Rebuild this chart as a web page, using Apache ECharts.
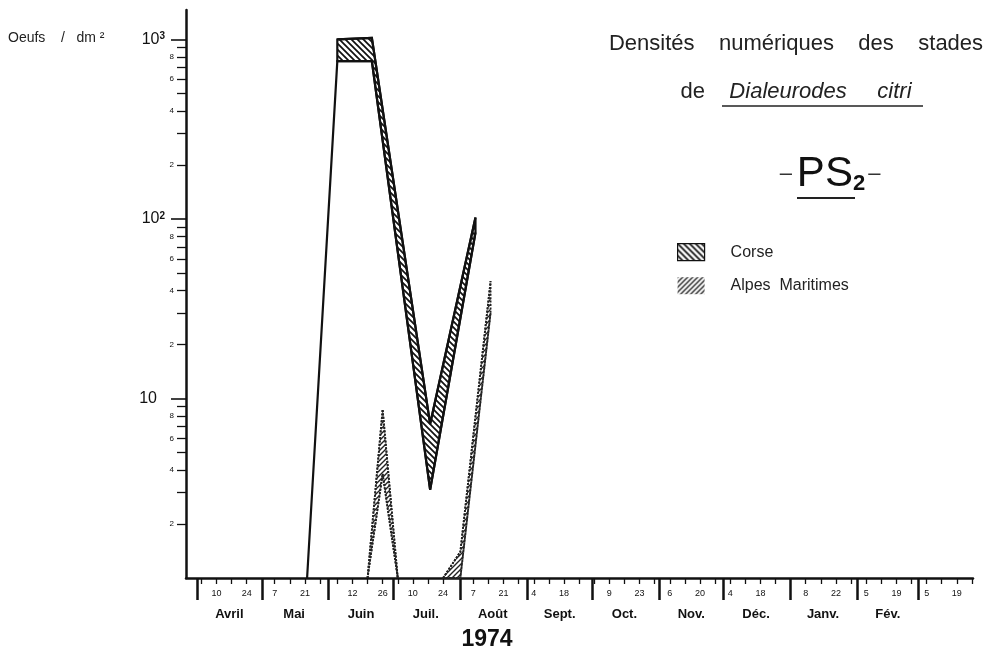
<!DOCTYPE html>
<html><head><meta charset="utf-8">
<script src="https://cdn.jsdelivr.net/npm/echarts@6/dist/echarts.min.js"></script>
<style>html,body{margin:0;padding:0;background:#fff}#c{width:993px;height:653px}</style>
</head><body><div id="c"></div>
<script>
// ---------- data ----------
const corseUpperDates = ['1974-06-05','1974-06-21','1974-07-18','1974-08-08'];
const corseUpper = [1000, 1020, 7.2, 102];
const corseLowerDates = ['1974-05-22','1974-06-05','1974-06-21','1974-07-18','1974-08-08'];
const corseLower = [1, 757, 757, 3.1, 84];

const alpes1Dates = ['1974-06-19','1974-06-26','1974-07-03'];
const alpes1Upper = [1, 8.7, 1];
const alpes1Lower = [1, 3.8, 1];
const alpes2Dates = ['1974-07-24','1974-08-01','1974-08-15'];
const alpes2Upper = [1, 1.4, 45];
const alpes2Lower = [1, 1, 30];

const monthStarts = ['1974-04-01','1974-05-01','1974-06-01','1974-07-01','1974-08-01','1974-09-01','1974-10-01','1974-11-01','1974-12-01','1975-01-01','1975-02-01','1975-03-01'];
const monthNames = ['Avril','Mai','Juin','Juil.','Août','Sept.','Oct.','Nov.','Déc.','Janv.','Fév.'];
const monthLabelDates = ['1974-04-16','1974-05-16','1974-06-16','1974-07-16','1974-08-16','1974-09-16','1974-10-16','1974-11-16','1974-12-16','1975-01-16','1975-02-15'];
const dayLabelDates = ['1974-04-10','1974-04-24','1974-05-07','1974-05-21','1974-06-12','1974-06-26','1974-07-10','1974-07-24','1974-08-07','1974-08-21','1974-09-04','1974-09-18','1974-10-09','1974-10-23','1974-11-06','1974-11-20','1974-12-04','1974-12-18','1975-01-08','1975-01-22','1975-02-05','1975-02-19','1975-03-05','1975-03-19'];
const dayTickDates = ['1974-04-03','1974-04-10','1974-04-17','1974-04-24','1974-05-07','1974-05-14','1974-05-21','1974-05-28','1974-06-05','1974-06-12','1974-06-19','1974-06-26','1974-07-03','1974-07-10','1974-07-17','1974-07-24','1974-08-07','1974-08-14','1974-08-21','1974-08-28','1974-09-04','1974-09-11','1974-09-18','1974-09-25','1974-10-02','1974-10-09','1974-10-16','1974-10-23','1974-10-30','1974-11-06','1974-11-13','1974-11-20','1974-11-27','1974-12-04','1974-12-11','1974-12-18','1974-12-25','1975-01-08','1975-01-15','1975-01-22','1975-01-29','1975-02-05','1975-02-12','1975-02-19','1975-02-26','1975-03-05','1975-03-12','1975-03-19','1975-03-26'];
const yMinorTicks = [2,3,4,5,6,7,8,9,20,30,40,50,60,70,80,90,200,300,400,500,600,700,800,900];
const yMinorLabels = [2,4,6,8,20,40,60,80,200,400,600,800];
const yDecades = [10,100,1000];
const xMinStr = '1974-03-26 21:40';
const xMaxStr = '1975-03-26 11:30';
const yMin = 1, yMax = 1459;

// ---------- helpers ----------
const FONT = '"Liberation Sans", Arial, Helvetica, sans-serif';
function ts(s){
  const parts = s.split(' ');
  const d = parts[0].split('-').map(Number);
  let h = 0, mi = 0;
  if (parts[1]) { const t = parts[1].split(':').map(Number); h = t[0]; mi = t[1]; }
  return new Date(d[0], d[1]-1, d[2], h, mi).getTime();
}
function hatch(dir, size, lw, color){
  const c = document.createElement('canvas');
  c.width = size; c.height = size;
  const g = c.getContext('2d');
  g.fillStyle = '#fff'; g.fillRect(0,0,size,size);
  g.strokeStyle = color; g.lineWidth = lw; g.lineCap = 'square';
  g.beginPath();
  for (const o of [-size, 0, size]) {
    if (dir === 'back') { g.moveTo(o-1, -1); g.lineTo(o+size+1, size+1); }
    else { g.moveTo(o-1, size+1); g.lineTo(o+size+1, -1); }
  }
  g.stroke();
  return c;
}
const corsePat = {image: hatch('back', 6, 1.7, '#111'), repeat: 'repeat'};
const alpesPat = {image: hatch('fwd', 5, 1.4, '#222'), repeat: 'repeat'};

function bandRender(upDates, up, loDates, lo, st){
  return function(params, api){
    if (params.dataIndex !== 0) return null;
    const U = upDates.map((d,i) => api.coord([ts(d), up[i]]));
    const Lall = loDates.map((d,i) => api.coord([ts(d), lo[i]]));
    const x0 = ts(upDates[0]), x1 = ts(upDates[upDates.length-1]);
    const Lin = Lall.filter((p,i) => { const t = ts(loDates[i]); return t >= x0 && t <= x1; });
    const poly = U.concat(Lin.slice().reverse());
    const lineStyle = {fill: null, stroke: st.stroke, lineWidth: st.lw, lineDash: st.dash, lineJoin: 'miter', miterLimit: 3};
    return {type: 'group', children: [
      {type: 'polygon', shape: {points: poly}, style: Object.assign({}, lineStyle, {fill: st.fill})},
      {type: 'polyline', shape: {points: U}, style: lineStyle},
      {type: 'polyline', shape: {points: Lall}, style: lineStyle}
    ]};
  };
}
function bandSeries(name, upDates, up, loDates, lo, st){
  return {
    type: 'custom', name: name, coordinateSystem: 'cartesian2d', xAxisIndex: 0, yAxisIndex: 0,
    encode: {x: 0, y: 1}, clip: false,
    itemStyle: {color: st.fill, borderColor: st.stroke},
    data: upDates.map((d,i) => [ts(d), up[i]]),
    renderItem: bandRender(upDates, up, loDates, lo, st)
  };
}
const corseStyle = {fill: corsePat, stroke: '#111', lw: 2.2, dash: null};
const alpesStyle = {fill: alpesPat, stroke: '#222', lw: 1.8, dash: [2, 1.4]};

const xMin = ts(xMinStr), xMax = ts(xMaxStr);
const yLogMax = Math.log10(yMax);
const monthLabelTs = monthLabelDates.map(ts);

const chart = echarts.init(document.getElementById('c'), null, {renderer: 'canvas'});
chart.setOption({
  animation: false,
  backgroundColor: '#fff',
  textStyle: {fontFamily: FONT},
  grid: {left: 186, right: 20, top: 10, bottom: 75, containLabel: false},
  title: [
    {text: 'Densités    numériques    des    stades', left: 796, top: 33, textAlign: 'center', padding: 0,
     textStyle: {fontSize: 22, fontWeight: 'normal', color: '#222', fontFamily: FONT}},
    {text: '{n|de}    {i|Dialeurodes     citri}', left: 796, top: 81, textAlign: 'center', padding: 0,
     textStyle: {fontWeight: 'normal', fontSize: 22,
       rich: {n: {fontSize: 22, fontWeight: 'normal', color: '#222', fontFamily: FONT},
              i: {fontSize: 22, fontWeight: 'normal', fontStyle: 'italic', color: '#222', fontFamily: FONT}}}},
    {text: '{dl|–}{p|PS}{s|2}{dr|–}', left: 830, top: 153, textAlign: 'center', padding: 0,
     textStyle: {fontWeight: 'normal',
       rich: {dl: {fontSize: 22, fontWeight: 'normal', color: '#333', fontFamily: FONT, verticalAlign: 'middle', padding: [0, 5, 0, 0]},
              dr: {fontSize: 22, fontWeight: 'normal', color: '#333', fontFamily: FONT, verticalAlign: 'middle', padding: [0, 0, 0, 3]},
              p: {fontSize: 42, fontWeight: 'normal', color: '#111', fontFamily: FONT, verticalAlign: 'bottom'},
              s: {fontSize: 22, fontWeight: 'bold', color: '#111', fontFamily: FONT, verticalAlign: 'bottom'}}}}
  ],
  legend: {
    orient: 'vertical', left: 677, top: 243, itemWidth: 27, itemHeight: 17, itemGap: 16, padding: 0,
    selectedMode: false,
    formatter: name => name.replace(' ', '  '),
    data: [
      {name: 'Corse', icon: 'rect', itemStyle: {color: corsePat, borderColor: '#111', borderWidth: 1.2}},
      {name: 'Alpes Maritimes', icon: 'rect', itemStyle: {color: alpesPat, borderWidth: 0}}
    ],
    textStyle: {fontSize: 16, color: '#222', fontFamily: FONT, padding: [0, 0, 0, 21]}
  },
  xAxis: [
    {type: 'value', min: xMin, max: xMax, position: 'bottom', scale: true,
     axisLine: {show: true, onZero: false, lineStyle: {color: '#111', width: 2.5}},
     axisTick: {show: true, customValues: dayTickDates.map(ts), length: 6, lineStyle: {color: '#111', width: 1.3}},
     axisLabel: {customValues: dayLabelDates.map(ts), formatter: v => String(new Date(v).getDate()),
                 fontSize: 9, color: '#111', margin: 11, hideOverlap: false, fontFamily: FONT},
     splitLine: {show: false}},
    {type: 'value', min: xMin, max: xMax, position: 'bottom', scale: true,
     axisLine: {show: false, onZero: false},
     axisTick: {show: true, customValues: monthStarts.map(ts), length: 22, lineStyle: {color: '#111', width: 2.5}},
     axisLabel: {customValues: monthLabelTs,
                 formatter: v => { let best = 0; monthLabelTs.forEach((t,i) => { if (Math.abs(t - v) < Math.abs(monthLabelTs[best] - v)) best = i; }); return monthNames[best]; },
                 fontSize: 13, fontWeight: 'bold', color: '#111', margin: 30, hideOverlap: false, fontFamily: FONT},
     splitLine: {show: false}}
  ],
  yAxis: [
    {type: 'log', logBase: 10, min: yMin, max: yMax, position: 'left', show: false},
    {type: 'value', min: 0, max: yLogMax, position: 'left',
     axisLine: {show: true, onZero: false, lineStyle: {color: '#111', width: 2.5}},
     axisTick: {show: true, customValues: yMinorTicks.map(Math.log10), length: 9, lineStyle: {color: '#111', width: 1.3}},
     axisLabel: {customValues: yMinorLabels.map(Math.log10),
                 formatter: v => String(Math.round(Math.pow(10, v - Math.floor(v + 1e-9)))),
                 fontSize: 8, color: '#111', margin: 12, fontFamily: FONT},
     splitLine: {show: false}},
    {type: 'value', min: 0, max: yLogMax, position: 'left',
     axisLine: {show: false, onZero: false},
     axisTick: {show: true, customValues: yDecades.map(Math.log10), length: 15, lineStyle: {color: '#111', width: 1.6}},
     axisLabel: {customValues: yDecades.map(Math.log10),
                 formatter: v => { const k = Math.round(v); return k === 1 ? '{b|10}{g|}' : '{b|10}{s|' + k + '}'; },
                 margin: 21,
                 rich: {b: {fontSize: 16, color: '#111', fontFamily: FONT, verticalAlign: 'bottom'},
                        g: {width: 8, fontSize: 10},
                        s: {fontSize: 10, fontWeight: 'bold', color: '#111', fontFamily: FONT, verticalAlign: 'top'}}},
     splitLine: {show: false}}
  ],
  graphic: [
    {type: 'text', x: 8, y: 38, style: {text: 'Oeufs    /   dm ²', fontSize: 14, fill: '#222', fontFamily: FONT, align: 'left', verticalAlign: 'middle'}},
    {type: 'text', x: 487, y: 640, style: {text: '1974', fontSize: 23, fontWeight: 'bold', fill: '#111', fontFamily: FONT, align: 'center', verticalAlign: 'middle'}},
    {type: 'line', shape: {x1: 722, y1: 106, x2: 923, y2: 106}, style: {stroke: '#222', lineWidth: 1.6}},
    {type: 'line', shape: {x1: 797, y1: 198, x2: 855, y2: 198}, style: {stroke: '#222', lineWidth: 2.2}}
  ],
  series: [
    bandSeries('Corse', corseUpperDates, corseUpper, corseLowerDates, corseLower, corseStyle),
    bandSeries('Alpes Maritimes', alpes1Dates, alpes1Upper, alpes1Dates, alpes1Lower, alpesStyle),
    bandSeries('Alpes Maritimes', alpes2Dates, alpes2Upper, alpes2Dates, alpes2Lower, alpesStyle)
  ]
});
</script>
</body></html>
